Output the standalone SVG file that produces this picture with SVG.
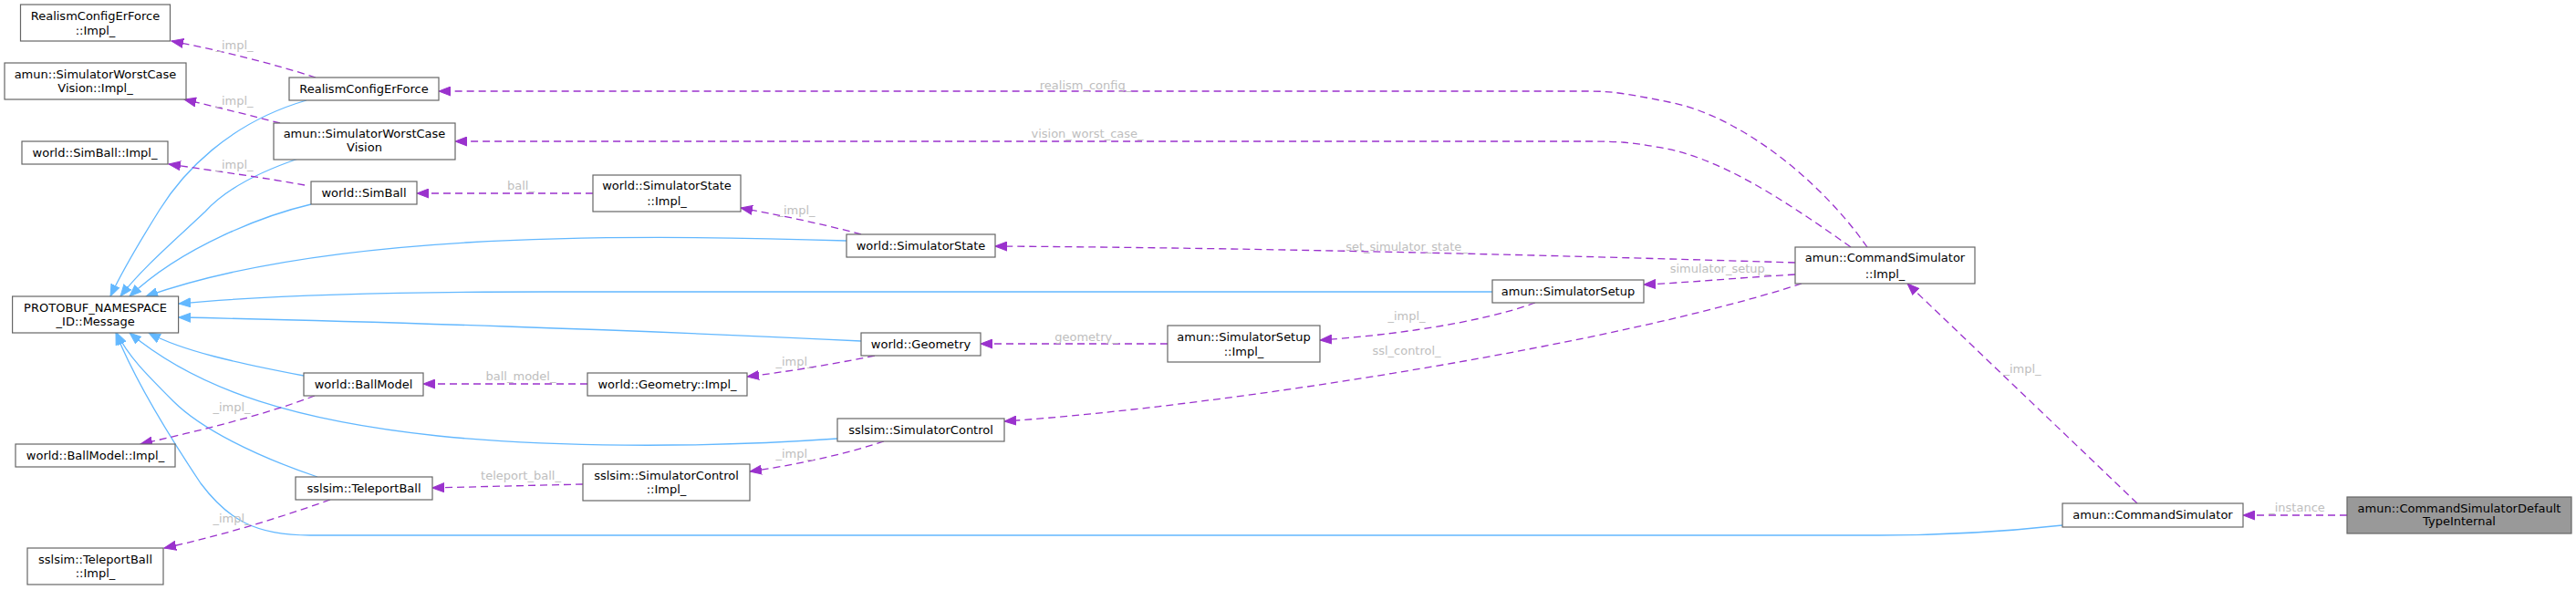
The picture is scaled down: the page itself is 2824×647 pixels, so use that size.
<svg xmlns="http://www.w3.org/2000/svg" width="2824" height="647" viewBox="0 0 2824 647">
<defs>
<style>
.n rect{fill:#ffffff;stroke:#666666;stroke-width:1.2}
.n.f rect{fill:#999999}
.n text{font-family:"DejaVu Sans","Liberation Sans",sans-serif;font-size:13px;fill:#000000;text-anchor:middle}
.lbl{font-family:"DejaVu Sans","Liberation Sans",sans-serif;font-size:13px;fill:#bebebe;text-anchor:middle}
.inh{fill:none;stroke:#63b8ff;stroke-width:1.3;marker-end:url(#ab)}
.use{fill:none;stroke:#9a32cd;stroke-width:1.3;stroke-dasharray:8,5;marker-end:url(#ap)}
</style>
<marker id="ab" markerWidth="14" markerHeight="11" refX="13" refY="5.5" orient="auto" markerUnits="userSpaceOnUse"><path d="M0,0.5 L13,5.5 L0,10.5 z" fill="#63b8ff" stroke="#63b8ff" stroke-width="1"/></marker>
<marker id="ap" markerWidth="14" markerHeight="11" refX="13" refY="5.5" orient="auto" markerUnits="userSpaceOnUse"><path d="M0,0.5 L13,5.5 L0,10.5 z" fill="#9a32cd" stroke="#9a32cd" stroke-width="1"/></marker>
</defs>
<rect width="2824" height="647" fill="#ffffff"/>
<g id="edges">
<path class="inh" d="M336,110 C 250,135 200,190 175,230 C 155,262 135,295 121,325"/>
<path class="inh" d="M327,174 C 280,190 245,210 225,232 C 190,265 155,295 132,325"/>
<path class="inh" d="M341,224 C 290,236 200,270 142,325"/>
<path class="inh" d="M928,264 C 650,255 350,258 160,325"/>
<path class="inh" d="M1636,320 L 600,320 C 400,320 280,325 196,333"/>
<path class="inh" d="M944,374 C 700,362 400,352 196,348"/>
<path class="inh" d="M333,412 C 260,398 200,385 163,365"/>
<path class="inh" d="M918,481 C 760,492 600,490 480,478 C 330,462 220,430 142,365"/>
<path class="inh" d="M348,523 C 280,500 220,470 190,440 C 160,410 140,390 128,365"/>
<path class="inh" d="M2261,576 C 2180,585 2120,587 2060,587 L 340,587 C 280,587 250,570 220,530 C 180,470 145,410 127,365"/>
<path class="use" d="M346,85 C 300,70 240,55 188,45"/>
<path class="use" d="M307,135 C 280,128 240,118 202,109"/>
<path class="use" d="M334,203 C 290,195 240,188 185,180"/>
<path class="use" d="M650,212 L 457,212"/>
<path class="use" d="M944,257 C 900,245 850,235 812,228"/>
<path class="use" d="M2047,271 C 1990,190 1900,125 1830,112 C 1790,104 1770,100 1743,100 L 481,100"/>
<path class="use" d="M2029,271 C 1950,215 1880,170 1815,161 C 1790,156 1770,155 1743,155 L 499,155"/>
<path class="use" d="M1968,288 C 1700,280 1400,272 1091,270"/>
<path class="use" d="M1968,301 C 1900,305 1850,310 1802,312"/>
<path class="use" d="M1975,311 C 1780,375 1350,445 1101,462"/>
<path class="use" d="M1683,332 C 1620,355 1520,368 1447,373"/>
<path class="use" d="M1280,377 L 1075,377"/>
<path class="use" d="M959,390 C 910,400 860,408 819,413"/>
<path class="use" d="M644,421 L 464,421"/>
<path class="use" d="M345,434 C 290,455 220,472 154,487"/>
<path class="use" d="M969,484 C 920,500 870,510 822,517"/>
<path class="use" d="M639,531 L 474,535"/>
<path class="use" d="M362,548 C 300,570 240,588 180,601"/>
<path class="use" d="M2343,552 L 2091,311"/>
<path class="use" d="M2573,565 L 2459,565"/>
<text class="lbl" x="257" y="53.5">_impl_</text>
<text class="lbl" x="257" y="115">_impl_</text>
<text class="lbl" x="257" y="184.5">_impl_</text>
<text class="lbl" x="571" y="207.5">ball_</text>
<text class="lbl" x="873" y="234.5">_impl_</text>
<text class="lbl" x="1190" y="97.5">realism_config_</text>
<text class="lbl" x="1192" y="151">vision_worst_case_</text>
<text class="lbl" x="1542" y="275">set_simulator_state_</text>
<text class="lbl" x="1886" y="298.5">simulator_setup_</text>
<text class="lbl" x="1542" y="350.5">_impl_</text>
<text class="lbl" x="1542" y="388.5">ssl_control_</text>
<text class="lbl" x="1191" y="373.5">geometry_</text>
<text class="lbl" x="871" y="400.5">_impl_</text>
<text class="lbl" x="571" y="416.5">ball_model_</text>
<text class="lbl" x="254" y="451">_impl_</text>
<text class="lbl" x="871" y="501.5">_impl_</text>
<text class="lbl" x="571" y="526">teleport_ball_</text>
<text class="lbl" x="254" y="572.5">_impl_</text>
<text class="lbl" x="2217" y="408.5">_impl_</text>
<text class="lbl" x="2518" y="561">_instance</text>
</g>
<g id="n_rcef_impl" class="n"><rect x="22.5" y="5" width="164" height="40"/><text x="104.5" y="21.5">RealismConfigErForce</text><text x="104.5" y="38">::Impl_</text></g>
<g id="n_wcv_impl" class="n"><rect x="5" y="69" width="199" height="40"/><text x="104.5" y="85.5">amun::SimulatorWorstCase</text><text x="104.5" y="101">Vision::Impl_</text></g>
<g id="n_simball_impl" class="n"><rect x="24" y="155" width="160" height="25"/><text x="104" y="172">world::SimBall::Impl_</text></g>
<g id="n_rcef" class="n"><rect x="317" y="85" width="164" height="25"/><text x="399" y="102">RealismConfigErForce</text></g>
<g id="n_wcv" class="n"><rect x="300" y="135" width="199" height="40"/><text x="399.5" y="151">amun::SimulatorWorstCase</text><text x="399.5" y="166">Vision</text></g>
<g id="n_simball" class="n"><rect x="341" y="199" width="116" height="25"/><text x="399" y="216">world::SimBall</text></g>
<g id="n_message" class="n"><rect x="13.6" y="325" width="182" height="40"/><text x="104.6" y="341.5">PROTOBUF_NAMESPACE</text><text x="104.6" y="356.5">_ID::Message</text></g>
<g id="n_ballmodel" class="n"><rect x="333" y="409" width="131" height="25"/><text x="398.5" y="426">world::BallModel</text></g>
<g id="n_ballmodel_impl" class="n"><rect x="17" y="487" width="175" height="25"/><text x="104.5" y="504">world::BallModel::Impl_</text></g>
<g id="n_teleport" class="n"><rect x="324" y="523" width="150" height="25"/><text x="399" y="540">sslsim::TeleportBall</text></g>
<g id="n_teleport_impl" class="n"><rect x="30" y="601" width="149" height="40"/><text x="104.5" y="617.5">sslsim::TeleportBall</text><text x="104.5" y="632.5">::Impl_</text></g>
<g id="n_simstate_impl" class="n"><rect x="650" y="192" width="162" height="40"/><text x="731" y="208">world::SimulatorState</text><text x="731" y="224.5">::Impl_</text></g>
<g id="n_simstate" class="n"><rect x="928" y="257" width="163" height="25"/><text x="1009.5" y="273.5">world::SimulatorState</text></g>
<g id="n_geometry" class="n"><rect x="944" y="365" width="131" height="25"/><text x="1009.5" y="381.5">world::Geometry</text></g>
<g id="n_geometry_impl" class="n"><rect x="644" y="409" width="175" height="25"/><text x="731.5" y="425.5">world::Geometry::Impl_</text></g>
<g id="n_simctrl" class="n"><rect x="918" y="459" width="183" height="25"/><text x="1009.5" y="476">sslsim::SimulatorControl</text></g>
<g id="n_simctrl_impl" class="n"><rect x="639" y="509" width="183" height="40"/><text x="730.5" y="525.5">sslsim::SimulatorControl</text><text x="730.5" y="541">::Impl_</text></g>
<g id="n_setup" class="n"><rect x="1636" y="307" width="166" height="25"/><text x="1719" y="324">amun::SimulatorSetup</text></g>
<g id="n_setup_impl" class="n"><rect x="1280" y="357" width="167" height="40"/><text x="1363.5" y="373.5">amun::SimulatorSetup</text><text x="1363.5" y="390">::Impl_</text></g>
<g id="n_cmdsim_impl" class="n"><rect x="1968" y="271" width="197" height="40"/><text x="2066.5" y="287">amun::CommandSimulator</text><text x="2066.5" y="304.5">::Impl_</text></g>
<g id="n_cmdsim" class="n"><rect x="2261" y="552" width="198" height="26"/><text x="2360" y="569">amun::CommandSimulator</text></g>
<g id="n_default" class="n f"><rect x="2573" y="545" width="246" height="40"/><text x="2696" y="561.5">amun::CommandSimulatorDefault</text><text x="2696" y="576">TypeInternal</text></g>
</svg>
